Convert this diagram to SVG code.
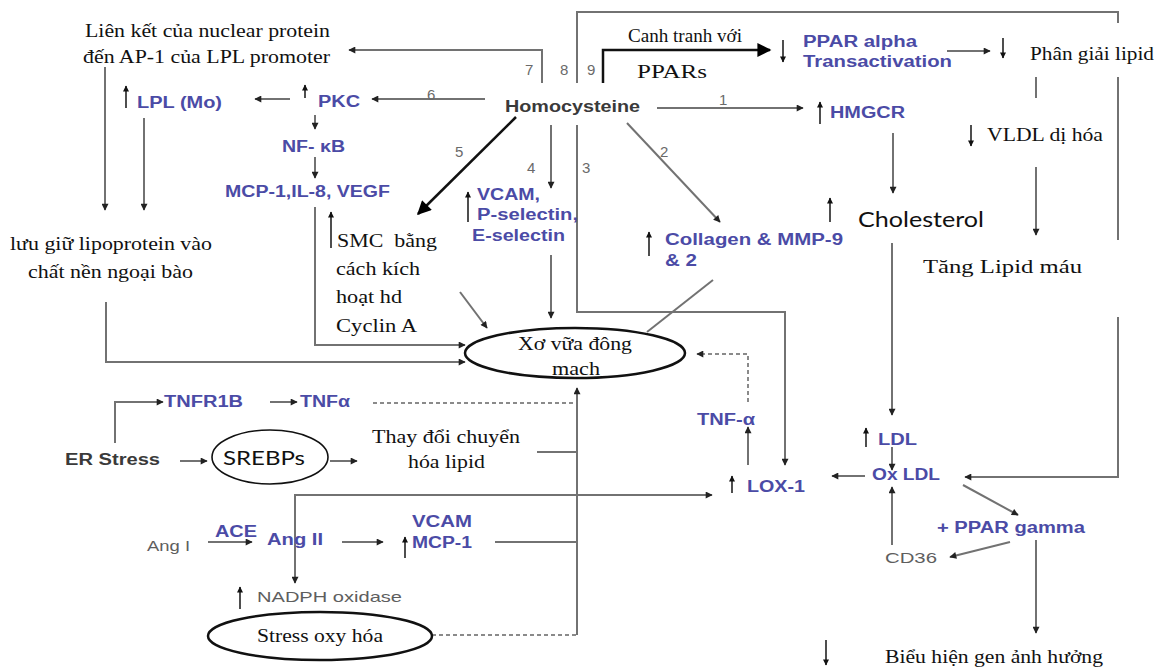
<svg xmlns="http://www.w3.org/2000/svg" width="1168" height="671" viewBox="0 0 1168 671">
<style>
.bg{fill:#fff}
.ln{fill:none;stroke:#727272;stroke-width:2}
.bk{fill:none;stroke:#111;stroke-width:2.5}
.ds{fill:none;stroke:#8a8a8a;stroke-width:2;stroke-dasharray:4 3}
.ud{fill:none;stroke:#222;stroke-width:1.6}
.el{fill:#fff;stroke:#111;stroke-width:2.5}
.el2{fill:#fff;stroke:#111;stroke-width:1.6}
.sf{font-family:"Liberation Serif","Times New Roman",serif;fill:#111;font-size:19px}
.cb{font-family:Lato,"Open Sans",sans-serif;fill:#111}
.bl{font-family:"Liberation Sans",Arial,sans-serif;font-weight:bold;fill:#4b4ba6;font-size:16px}
.gb{font-family:"Liberation Sans",Arial,sans-serif;font-weight:bold;fill:#3a3a3a;font-size:16px}
.gr{font-family:"Liberation Sans",Arial,sans-serif;fill:#5e5e5e;font-size:15px}
.nm{font-family:"Liberation Sans",Arial,sans-serif;fill:#6a6a6a;font-size:15px}
</style>
<defs>
<marker id="a" viewBox="0 0 10 10" refX="9" refY="5" markerWidth="8" markerHeight="7" markerUnits="userSpaceOnUse" orient="auto"><path d="M0,0 L10,5 L0,10 z" fill="#222"/></marker>
<marker id="ab" viewBox="0 0 10 10" refX="9" refY="5" markerWidth="16" markerHeight="14" markerUnits="userSpaceOnUse" orient="auto"><path d="M0,0 L10,5 L0,10 z" fill="#000"/></marker>
<marker id="au" viewBox="0 0 10 10" refX="9" refY="5" markerWidth="7" markerHeight="6" markerUnits="userSpaceOnUse" orient="auto"><path d="M0,0 L10,5 L0,10 z" fill="#111"/></marker>
</defs>
<rect class="bg" x="0" y="0" width="1168" height="671"/>

<g id="connectors">
<polyline class="ln" points="542,83 542,50 349,50" marker-end="url(#a)"/>
<polyline class="ln" points="577,83 577,12 1118,12 1118,23"/>
<line class="ln" x1="1118" y1="77" x2="1118" y2="240"/>
<polyline class="ln" points="1118,317 1118,477 965,477" marker-end="url(#a)"/>
<polyline class="bk" points="603,83 603,50 770,50" marker-end="url(#ab)"/>
<line class="ln" x1="485" y1="99" x2="372" y2="99" marker-end="url(#a)"/>
<line class="ln" x1="657" y1="108" x2="803" y2="108" marker-end="url(#a)"/>
<line class="ln" x1="627" y1="123" x2="720" y2="222" marker-end="url(#a)"/>
<polyline class="ln" points="577,125 577,312 785,312 785,465" marker-end="url(#a)"/>
<line class="ln" x1="551" y1="125" x2="551" y2="188" marker-end="url(#a)"/>
<line class="bk" x1="516" y1="117" x2="418" y2="214" marker-end="url(#ab)"/>
<line class="ln" x1="290" y1="99" x2="255" y2="99" marker-end="url(#a)"/>
<line class="ln" x1="315" y1="115" x2="315" y2="129" marker-end="url(#a)"/>
<line class="ln" x1="315" y1="157" x2="315" y2="178" marker-end="url(#a)"/>
<line class="ln" x1="105" y1="67" x2="105" y2="210" marker-end="url(#a)"/>
<line class="ln" x1="144" y1="118" x2="144" y2="210" marker-end="url(#a)"/>
<polyline class="ln" points="106,302 106,362 465,362" marker-end="url(#a)"/>
<polyline class="ln" points="315,207 315,345 465,345" marker-end="url(#a)"/>
<line class="ln" x1="460" y1="292" x2="487" y2="328" marker-end="url(#a)"/>
<line class="ln" x1="551" y1="255" x2="551" y2="318" marker-end="url(#a)"/>
<line class="ln" x1="713" y1="280" x2="647" y2="332"/>
<line class="ln" x1="947" y1="51" x2="990" y2="51" marker-end="url(#a)"/>
<line class="ln" x1="1036" y1="77" x2="1036" y2="98"/>
<line class="ln" x1="1036" y1="167" x2="1036" y2="235" marker-end="url(#a)"/>
<line class="ln" x1="893" y1="133" x2="893" y2="193" marker-end="url(#a)"/>
<line class="ln" x1="892" y1="243" x2="892" y2="415" marker-end="url(#a)"/>
<line class="ln" x1="892" y1="447" x2="892" y2="470" marker-end="url(#a)"/>
<line class="ln" x1="865" y1="476" x2="832" y2="476" marker-end="url(#a)"/>
<line class="ln" x1="748" y1="465" x2="748" y2="427" marker-end="url(#a)"/>
<polyline class="ds" points="748,402 748,354 697,354" marker-end="url(#a)"/>
<polyline class="ln" points="115,443 115,402 163,402" marker-end="url(#a)"/>
<line class="ln" x1="270" y1="402" x2="297" y2="402" marker-end="url(#a)"/>
<line class="ds" x1="373" y1="403" x2="577" y2="403"/>
<line class="ln" x1="180" y1="461" x2="207" y2="461" marker-end="url(#a)"/>
<line class="ln" x1="330" y1="461" x2="357" y2="461" marker-end="url(#a)"/>
<line class="ln" x1="537" y1="452" x2="577" y2="452"/>
<line class="ln" x1="577" y1="635" x2="577" y2="388" marker-end="url(#a)"/>
<polyline class="ln" points="295,582 295,495 712,495" marker-end="url(#a)"/>
<line class="ln" x1="295" y1="540" x2="295" y2="583" marker-end="url(#a)"/>
<line class="ln" x1="208" y1="542" x2="252" y2="542" marker-end="url(#a)"/>
<line class="ln" x1="342" y1="542" x2="383" y2="542" marker-end="url(#a)"/>
<line class="ln" x1="495" y1="542" x2="577" y2="542"/>
<line class="ds" x1="432" y1="635" x2="577" y2="635"/>
<line class="ln" x1="963" y1="485" x2="1018" y2="515" marker-end="url(#a)"/>
<line class="ln" x1="1010" y1="542" x2="950" y2="557" marker-end="url(#a)"/>
<line class="ln" x1="892" y1="545" x2="892" y2="487" marker-end="url(#a)"/>
<line class="ln" x1="1036" y1="540" x2="1036" y2="633" marker-end="url(#a)"/>
</g>

<g id="updown">
<line class="ud" x1="126" y1="108" x2="126" y2="86" marker-end="url(#au)"/>
<line class="ud" x1="305" y1="98" x2="305" y2="85" marker-end="url(#au)"/>
<line class="ud" x1="331" y1="248" x2="331" y2="212" marker-end="url(#au)"/>
<line class="ud" x1="468" y1="222" x2="468" y2="192" marker-end="url(#au)"/>
<line class="ud" x1="783" y1="40" x2="783" y2="62" marker-end="url(#au)"/>
<line class="ud" x1="1003" y1="38" x2="1003" y2="58" marker-end="url(#au)"/>
<line class="ud" x1="971" y1="125" x2="971" y2="146" marker-end="url(#au)"/>
<line class="ud" x1="820" y1="124" x2="820" y2="102" marker-end="url(#au)"/>
<line class="ud" x1="649" y1="256" x2="649" y2="232" marker-end="url(#au)"/>
<line class="ud" x1="830" y1="222" x2="830" y2="198" marker-end="url(#au)"/>
<line class="ud" x1="866" y1="447" x2="866" y2="428" marker-end="url(#au)"/>
<line class="ud" x1="732" y1="493" x2="732" y2="476" marker-end="url(#au)"/>
<line class="ud" x1="405" y1="558" x2="405" y2="537" marker-end="url(#au)"/>
<line class="ud" x1="240" y1="609" x2="240" y2="587" marker-end="url(#au)"/>
<line class="ud" x1="826" y1="640" x2="826" y2="665" marker-end="url(#au)"/>
</g>

<g id="numbers">
<text class="nm" x="525" y="75">7</text>
<text class="nm" x="560" y="75">8</text>
<text class="nm" x="587" y="75">9</text>
<text class="nm" x="427" y="100">6</text>
<text class="nm" x="719" y="105">1</text>
<text class="nm" x="455" y="157">5</text>
<text class="nm" x="527" y="173">4</text>
<text class="nm" x="582" y="173">3</text>
<text class="nm" x="660" y="157">2</text>
</g>

<g id="n-homocysteine"><text class="gb" x="505" y="112" textLength="135" lengthAdjust="spacingAndGlyphs">Homocysteine</text></g>
<g id="n-lienket">
<text class="sf" x="85" y="37" textLength="245" lengthAdjust="spacingAndGlyphs">Liên kết của nuclear protein</text>
<text class="sf" x="83" y="63" textLength="247" lengthAdjust="spacingAndGlyphs">đến AP-1 của LPL promoter</text>
</g>
<g id="n-canhtranh">
<text class="sf" x="628" y="42" font-size="15" textLength="114" lengthAdjust="spacingAndGlyphs">Canh tranh với</text>
<text class="sf" x="637" y="78" font-size="21" textLength="70" lengthAdjust="spacingAndGlyphs">PPARs</text>
</g>
<g id="n-pparalpha">
<text class="bl" x="803" y="47" textLength="114" lengthAdjust="spacingAndGlyphs">PPAR alpha</text>
<text class="bl" x="803" y="67" textLength="149" lengthAdjust="spacingAndGlyphs">Transactivation</text>
</g>
<g id="n-phangiai"><text class="sf" x="1030" y="60" font-size="18" textLength="124" lengthAdjust="spacingAndGlyphs">Phân giải lipid</text></g>
<g id="n-vldl"><text class="sf" x="987" y="141" font-size="18" textLength="116" lengthAdjust="spacingAndGlyphs">VLDL dị hóa</text></g>
<g id="n-tanglipid"><text class="sf" x="923" y="273" font-size="19" textLength="159" lengthAdjust="spacingAndGlyphs">Tăng Lipid máu</text></g>
<g id="n-hmgcr"><text class="bl" x="830" y="118" textLength="75" lengthAdjust="spacingAndGlyphs">HMGCR</text></g>
<g id="n-cholesterol"><text class="cb" x="858" y="227" font-size="21" textLength="126" lengthAdjust="spacingAndGlyphs">Cholesterol</text></g>
<g id="n-lpl"><text class="bl" x="137" y="108" textLength="85" lengthAdjust="spacingAndGlyphs">LPL (Mo)</text></g>
<g id="n-pkc"><text class="bl" x="318" y="107" textLength="42" lengthAdjust="spacingAndGlyphs">PKC</text></g>
<g id="n-nfkb"><text class="bl" x="282" y="152" textLength="63" lengthAdjust="spacingAndGlyphs">NF- κB</text></g>
<g id="n-mcp"><text class="bl" x="225" y="197" textLength="165" lengthAdjust="spacingAndGlyphs">MCP-1,IL-8, VEGF</text></g>
<g id="n-vcam">
<text class="bl" x="477" y="200" textLength="63" lengthAdjust="spacingAndGlyphs">VCAM,</text>
<text class="bl" x="477" y="220" textLength="101" lengthAdjust="spacingAndGlyphs">P-selectin,</text>
<text class="bl" x="472" y="241" textLength="93" lengthAdjust="spacingAndGlyphs">E-selectin</text>
</g>
<g id="n-collagen">
<text class="bl" x="665" y="245" textLength="178" lengthAdjust="spacingAndGlyphs">Collagen &amp; MMP-9</text>
<text class="bl" x="665" y="266" textLength="32" lengthAdjust="spacingAndGlyphs">&amp; 2</text>
</g>
<g id="n-luugiu">
<text class="sf" x="10" y="250" font-size="18" textLength="202" lengthAdjust="spacingAndGlyphs">lưu giữ lipoprotein vào</text>
<text class="sf" x="28" y="278" font-size="18" textLength="165" lengthAdjust="spacingAndGlyphs">chất nền ngoại bào</text>
</g>
<g id="n-smc">
<text class="sf" x="337" y="247" xml:space="preserve" textLength="100" lengthAdjust="spacingAndGlyphs">SMC  bằng</text>
<text class="sf" x="336" y="275" textLength="84" lengthAdjust="spacingAndGlyphs">cách kích</text>
<text class="sf" x="336" y="303" textLength="66" lengthAdjust="spacingAndGlyphs">hoạt hd</text>
<text class="sf" x="336" y="332" textLength="81" lengthAdjust="spacingAndGlyphs">Cyclin A</text>
</g>
<g id="n-xovua">
<ellipse class="el" cx="575" cy="353" rx="110" ry="25"/>
<text class="sf" x="518" y="350" font-size="18" textLength="114" lengthAdjust="spacingAndGlyphs">Xơ vữa đông</text>
<text class="sf" x="552" y="375" font-size="18" textLength="48" lengthAdjust="spacingAndGlyphs">mach</text>
</g>
<g id="n-tnfr1b"><text class="bl" x="164" y="407" textLength="79" lengthAdjust="spacingAndGlyphs">TNFR1B</text></g>
<g id="n-tnfa1"><text class="bl" x="300" y="407" textLength="50" lengthAdjust="spacingAndGlyphs">TNFα</text></g>
<g id="n-tnfa2"><text class="bl" x="697" y="425" textLength="58" lengthAdjust="spacingAndGlyphs">TNF-α</text></g>
<g id="n-erstress"><text class="gb" x="65" y="465" textLength="95" lengthAdjust="spacingAndGlyphs">ER Stress</text></g>
<g id="n-srebps">
<ellipse class="el2" cx="270" cy="457" rx="58" ry="27"/>
<text class="cb" x="223" y="465" font-size="20" textLength="82" lengthAdjust="spacingAndGlyphs">SREBPs</text>
</g>
<g id="n-thaydoi">
<text class="sf" x="372" y="443" font-size="18" textLength="148" lengthAdjust="spacingAndGlyphs">Thay đổi chuyển</text>
<text class="sf" x="408" y="468" font-size="18" textLength="77" lengthAdjust="spacingAndGlyphs">hóa lipid</text>
</g>
<g id="n-lox1"><text class="bl" x="747" y="492" textLength="58" lengthAdjust="spacingAndGlyphs">LOX-1</text></g>
<g id="n-ldl"><text class="bl" x="878" y="445" textLength="39" lengthAdjust="spacingAndGlyphs">LDL</text></g>
<g id="n-oxldl"><text class="bl" x="872" y="480" textLength="68" lengthAdjust="spacingAndGlyphs">Ox LDL</text></g>
<g id="n-ppargamma"><text class="bl" x="937" y="533" textLength="148" lengthAdjust="spacingAndGlyphs">+ PPAR gamma</text></g>
<g id="n-cd36"><text class="gr" x="885" y="563" font-size="17" textLength="52" lengthAdjust="spacingAndGlyphs">CD36</text></g>
<g id="n-angi"><text class="gr" x="147" y="551" font-size="16" textLength="43" lengthAdjust="spacingAndGlyphs">Ang I</text></g>
<g id="n-ace"><text class="bl" x="215" y="537" textLength="42" lengthAdjust="spacingAndGlyphs">ACE</text></g>
<g id="n-angii"><text class="bl" x="267" y="545" textLength="56" lengthAdjust="spacingAndGlyphs">Ang II</text></g>
<g id="n-vcammcp">
<text class="bl" x="412" y="527" textLength="60" lengthAdjust="spacingAndGlyphs">VCAM</text>
<text class="bl" x="412" y="548" textLength="60" lengthAdjust="spacingAndGlyphs">MCP-1</text>
</g>
<g id="n-nadph"><text class="gr" x="257" y="602" font-size="16" textLength="145" lengthAdjust="spacingAndGlyphs">NADPH oxidase</text></g>
<g id="n-stressoxy">
<ellipse class="el" cx="320" cy="636" rx="112" ry="24"/>
<text class="sf" x="257" y="642" font-size="18" textLength="126" lengthAdjust="spacingAndGlyphs">Stress oxy hóa</text>
</g>
<g id="n-bieuhien"><text class="sf" x="885" y="663" font-size="18" textLength="218" lengthAdjust="spacingAndGlyphs">Biểu hiện gen ảnh hưởng</text></g>
</svg>
